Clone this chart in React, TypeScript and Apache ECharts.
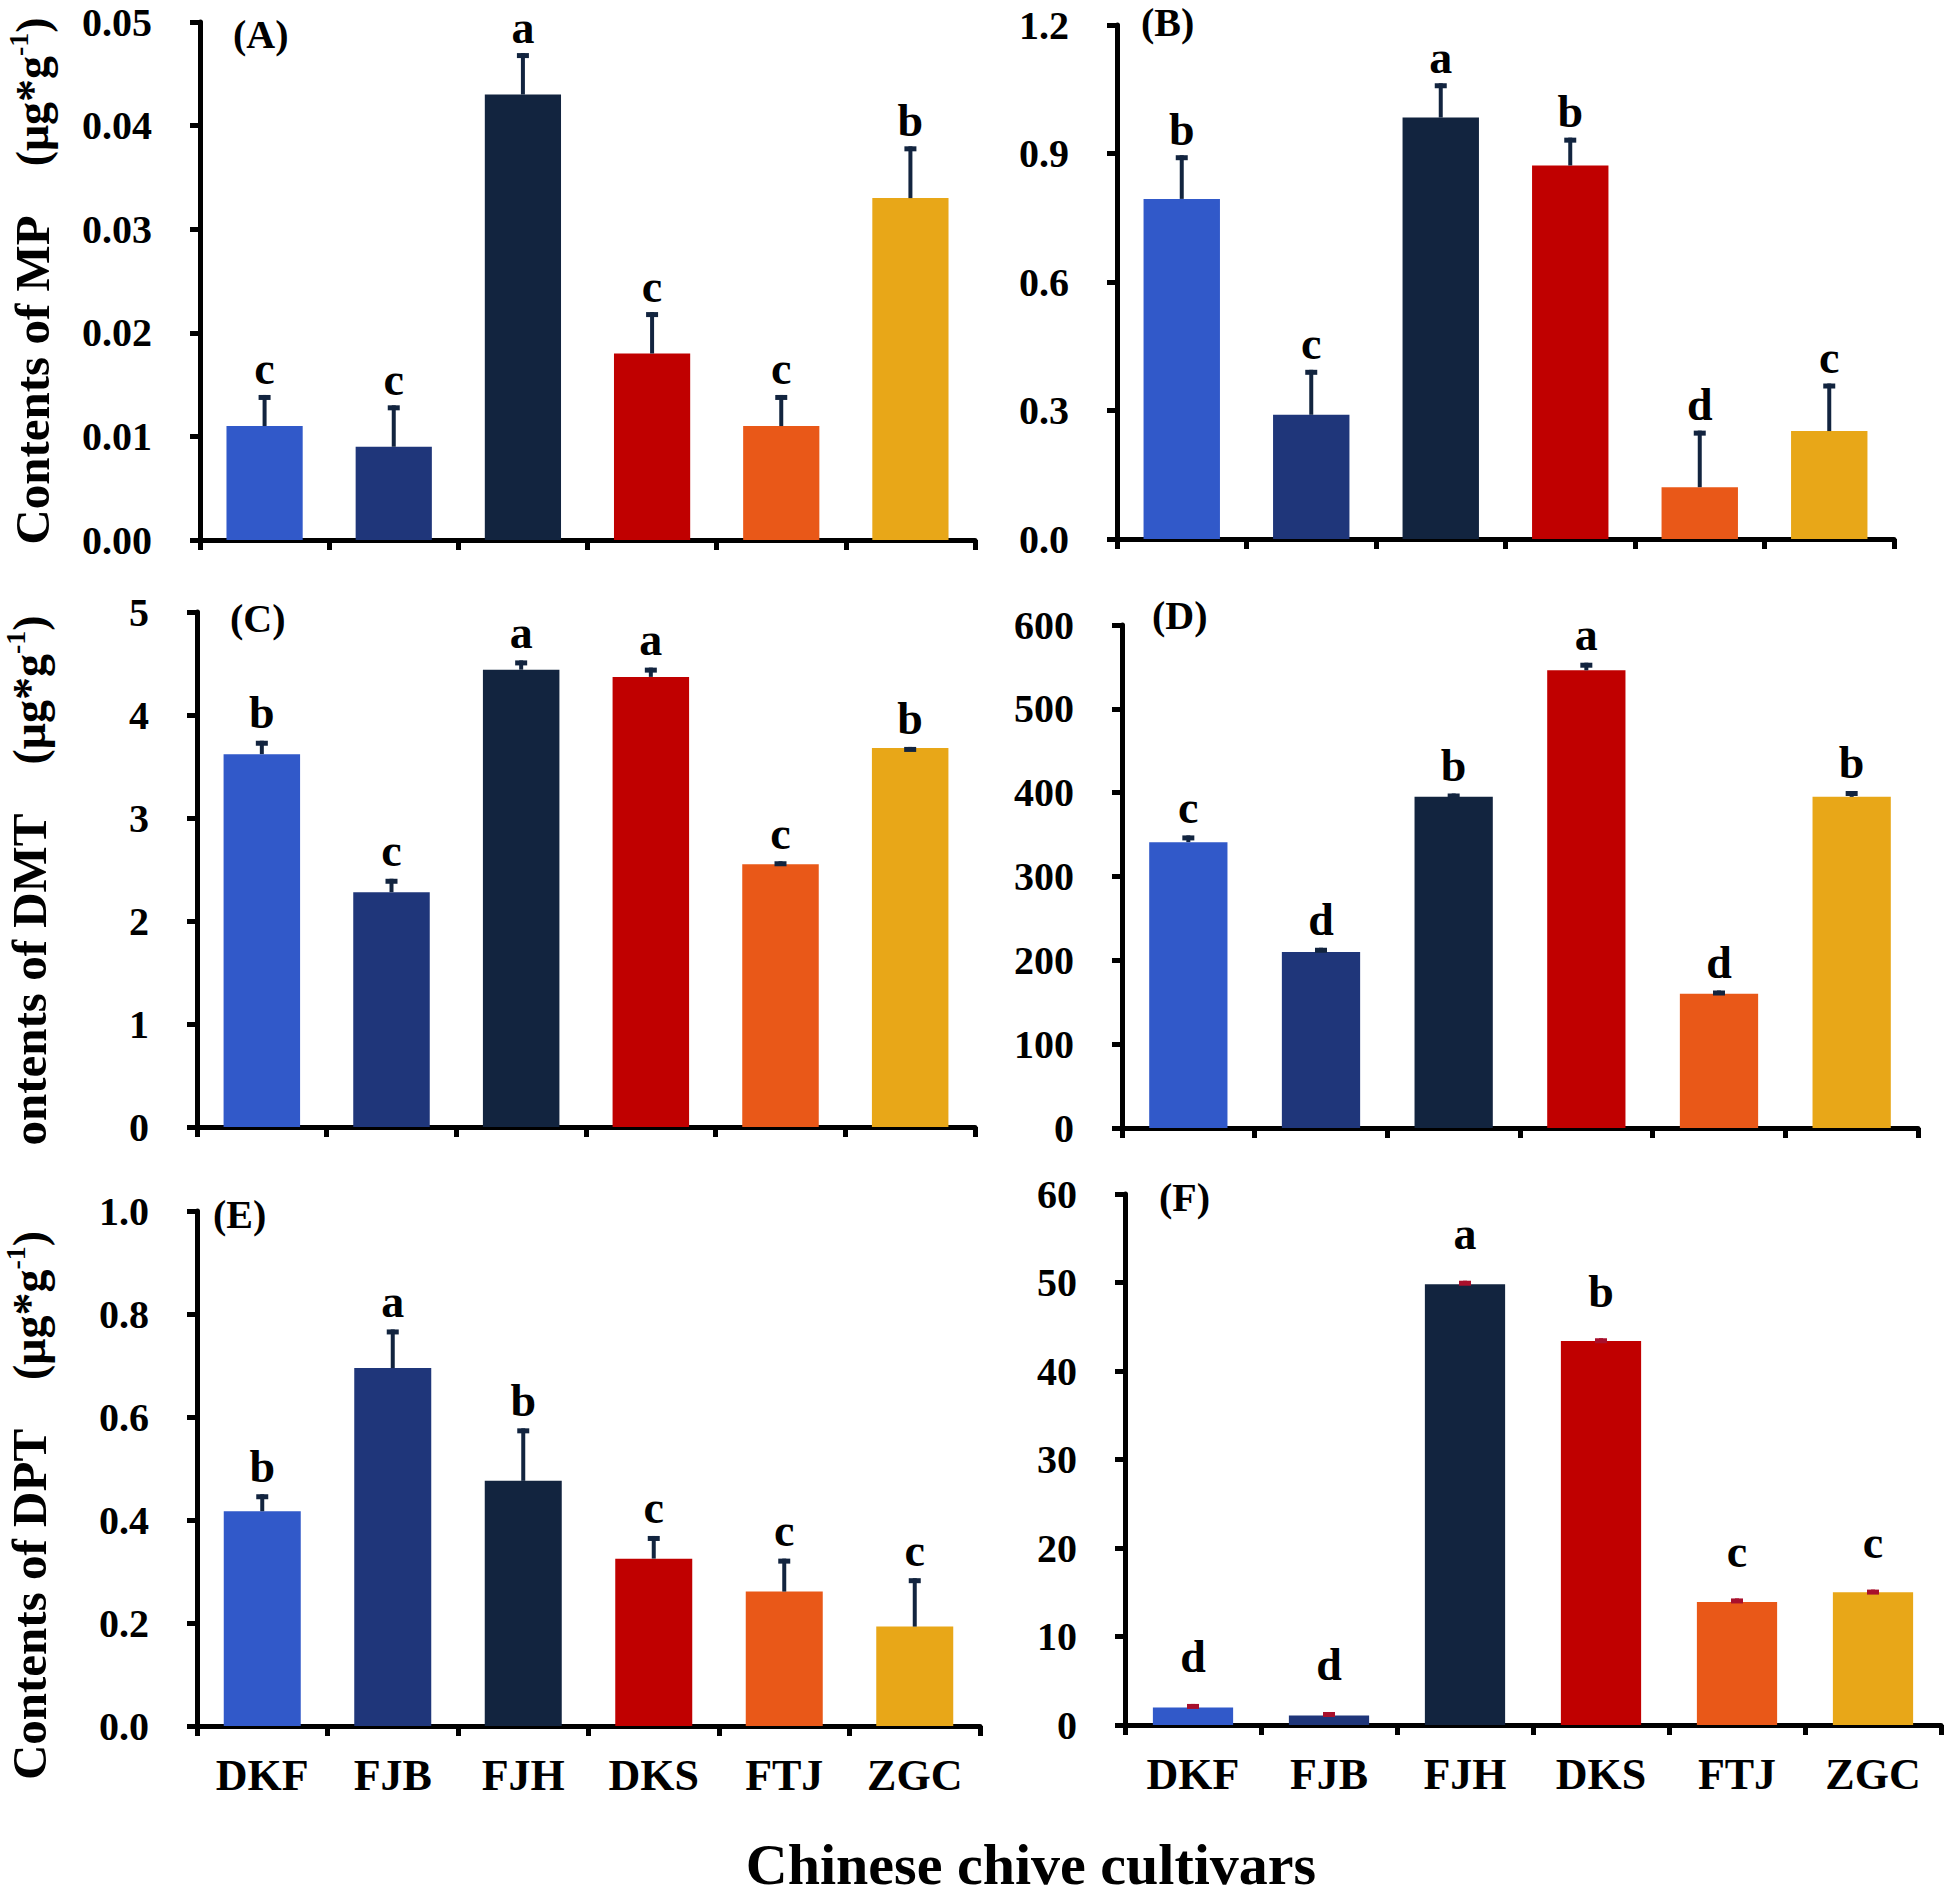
import React, { useEffect, useRef } from 'react';
import * as echarts from 'echarts';

const categories = ['DKF', 'FJB', 'FJH', 'DKS', 'FTJ', 'ZGC'];
const barColors = ['#3159c9', '#1f367a', '#12243f', '#c00000', '#e95818', '#e8a718'];

// (A) MP
const mpMeans = [0.011, 0.009, 0.043, 0.018, 0.011, 0.033];
const mpErrs = [0.003, 0.004, 0.004, 0.004, 0.003, 0.005];
const mpLetters = ['c', 'c', 'a', 'c', 'c', 'b'];
// (B)
const bMeans = [0.794, 0.29, 0.984, 0.872, 0.121, 0.252];
const bErrs = [0.102, 0.105, 0.08, 0.065, 0.132, 0.111];
const bLetters = ['b', 'c', 'a', 'b', 'd', 'c'];
// (C) DMT
const dmtMeans = [3.62, 2.28, 4.44, 4.37, 2.55, 3.68];
const dmtErrs = [0.13, 0.13, 0.09, 0.09, 0.03, 0.01];
const dmtLetters = ['b', 'c', 'a', 'a', 'c', 'b'];
// (D)
const dMeans = [341, 210, 395, 546, 160, 395];
const dErrs = [8, 5, 4, 9, 4, 7];
const dLetters = ['c', 'd', 'b', 'a', 'd', 'b'];
// (E) DPT
const dptMeans = [0.417, 0.695, 0.476, 0.325, 0.261, 0.193];
const dptErrs = [0.033, 0.075, 0.102, 0.044, 0.064, 0.094];
const dptLetters = ['b', 'a', 'b', 'c', 'c', 'c'];
// (F)
const fMeans = [1.98, 1.07, 49.8, 43.4, 13.9, 15.0];
const fErrs = [0.4, 0.4, 0.4, 0.3, 0.4, 0.3];
const fLetters = ['d', 'd', 'a', 'b', 'c', 'c'];

const FONT = "'Times New Roman', 'Liberation Serif', serif";
const NAVY = '#12243f';
const ERR_RED = '#a8102c';

const unit = '{u|(μg*g}{s|-1}{u|)}';

type Panel = {
  tag: string;
  tagX: number;
  tagY: number;
  means: number[];
  errs: number[];
  letters: string[];
  max: number;
  interval: number;
  decimals: number;
  grid: { left: number; top: number; width: number; height: number };
  title?: string;
  titlePad?: number;
  showX: boolean;
  errColor: string;
  letterGap: number;
};

const panels: Panel[] = [
  {
    tag: '(A)', tagX: 233, tagY: 34, means: mpMeans, errs: mpErrs, letters: mpLetters,
    max: 0.05, interval: 0.01, decimals: 2,
    grid: { left: 200, top: 22, width: 775, height: 518 },
    title: '{t|Contents of MP}{t|    }' + unit, titlePad: 0, showX: false, errColor: NAVY, letterGap: 3,
  },
  {
    tag: '(B)', tagX: 1141, tagY: 22, means: bMeans, errs: bErrs, letters: bLetters,
    max: 1.2, interval: 0.3, decimals: 1,
    grid: { left: 1117, top: 25, width: 777, height: 514 },
    showX: false, errColor: NAVY, letterGap: 3,
  },
  {
    tag: '(C)', tagX: 230, tagY: 618, means: dmtMeans, errs: dmtErrs, letters: dmtLetters,
    max: 5, interval: 1, decimals: 0,
    grid: { left: 194, top: 612, width: 781, height: 515 },
    title: '{t|ontents of DMT}{t|    }' + unit, titlePad: 22, showX: false, errColor: NAVY, letterGap: 5,
  },
  {
    tag: '(D)', tagX: 1152, tagY: 615, means: dMeans, errs: dErrs, letters: dLetters,
    max: 600, interval: 100, decimals: 0,
    grid: { left: 1122, top: 625, width: 796, height: 503 },
    showX: false, errColor: NAVY, letterGap: 5,
  },
  {
    tag: '(E)', tagX: 213, tagY: 1214, means: dptMeans, errs: dptErrs, letters: dptLetters,
    max: 1, interval: 0.2, decimals: 1,
    grid: { left: 192, top: 1211, width: 788, height: 515 },
    title: '{t|Contents of DPT}{t|    }' + unit, titlePad: 74, showX: true, errColor: NAVY, letterGap: 5,
  },
  {
    tag: '(F)', tagX: 1159, tagY: 1197, means: fMeans, errs: fErrs, letters: fLetters,
    max: 60, interval: 10, decimals: 0,
    grid: { left: 1125, top: 1194, width: 816, height: 531 },
    showX: true, errColor: ERR_RED, letterGap: 24,
  },
];

function buildOption() {
  const grid: any[] = [];
  const xAxis: any[] = [];
  const yAxis: any[] = [];
  const series: any[] = [];
  const graphic: any[] = [];

  panels.forEach((p, i) => {
    grid.push({ ...p.grid, containLabel: false });
    xAxis.push({
      type: 'category',
      gridIndex: i,
      data: categories,
      axisLine: { lineStyle: { color: '#000', width: 5 } },
      axisTick: { show: true, length: 10, lineStyle: { color: '#000', width: 5 } },
      axisLabel: {
        show: p.showX,
        color: '#000',
        fontFamily: FONT,
        fontWeight: 'bold',
        fontSize: 44,
        margin: 27,
      },
      splitLine: { show: false },
    });
    yAxis.push({
      type: 'value',
      gridIndex: i,
      min: 0,
      max: p.max,
      interval: p.interval,
      axisLine: { show: true, lineStyle: { color: '#000', width: 5 } },
      axisTick: { show: true, length: 10, lineStyle: { color: '#000', width: 5 } },
      axisLabel: {
        color: '#000',
        fontFamily: FONT,
        fontWeight: 'bold',
        fontSize: 40,
        margin: 48,
        formatter: (v: number) => v.toFixed(p.decimals),
      },
      splitLine: { show: false },
      name: p.title || '',
      nameLocation: 'middle',
      nameRotate: 90,
      nameGap: 140,
      nameTextStyle: {
        color: '#000',
        fontFamily: FONT,
        fontWeight: 'bold',
        fontSize: 48,
        padding: [0, p.titlePad || 0, 0, 0],
        rich: {
          t: { fontFamily: FONT, fontWeight: 'bold', fontSize: 49, lineHeight: 56, color: '#000' },
          u: { fontFamily: FONT, fontWeight: 'bold', fontSize: 46, lineHeight: 56, color: '#000' },
          s: { fontFamily: FONT, fontWeight: 'bold', fontSize: 28, lineHeight: 28, verticalAlign: 'top', color: '#000' },
        },
      },
    });
    series.push({
      type: 'bar',
      xAxisIndex: i,
      yAxisIndex: i,
      data: p.means,
      barCategoryGap: '41%',
      itemStyle: {
        color: (params: any) => barColors[params.dataIndex],
      },
      z: 2,
    });
    const letters = p.letters;
    const errColor = p.errColor;
    const gap = p.letterGap;
    series.push({
      type: 'custom',
      xAxisIndex: i,
      yAxisIndex: i,
      clip: false,
      z: 3,
      data: p.means.map((m, k) => [k, m, p.errs[k]]),
      encode: { x: 0, y: 1 },
      renderItem: (params: any, api: any) => {
        const idx = api.value(0);
        const mean = api.value(1);
        const err = api.value(2);
        const base = api.coord([idx, mean]);
        const top = api.coord([idx, mean + err]);
        return {
          type: 'group',
          children: [
            {
              type: 'line',
              shape: { x1: base[0], y1: base[1], x2: top[0], y2: top[1] },
              style: { stroke: errColor, lineWidth: 4 },
            },
            {
              type: 'rect',
              shape: { x: top[0] - 6, y: top[1], width: 12, height: 5 },
              style: { fill: errColor },
            },
            {
              type: 'text',
              style: {
                text: letters[params.dataIndex],
                x: top[0],
                y: top[1] - gap,
                align: 'center',
                verticalAlign: 'bottom',
                fontFamily: FONT,
                fontWeight: 'bold',
                fontSize: 46,
                fill: '#000',
              },
            },
          ],
        };
      },
    });
    graphic.push({
      type: 'text',
      left: p.tagX,
      top: p.tagY - 20,
      style: {
        text: p.tag,
        fontFamily: FONT,
        fontWeight: 'bold',
        fontSize: 40,
        fill: '#000',
      },
    });
  });

  graphic.push({
    type: 'text',
    x: 1031,
    y: 1864,
    style: {
      text: 'Chinese chive cultivars',
      align: 'center',
      verticalAlign: 'middle',
      fontFamily: FONT,
      fontWeight: 'bold',
      fontSize: 58,
      fill: '#000',
    },
  });

  return {
    animation: false,
    backgroundColor: '#ffffff',
    grid,
    xAxis,
    yAxis,
    series,
    graphic,
  };
}

export default function App() {
  const ref = useRef<HTMLDivElement>(null);
  useEffect(() => {
    document.body.style.margin = '0';
    if (!ref.current) return;
    const chart = echarts.init(ref.current, undefined, { renderer: 'svg' });
    chart.setOption(buildOption() as any);
    return () => {
      chart.dispose();
    };
  }, []);
  return <div ref={ref} style={{ width: 1946, height: 1901 }} />;
}
